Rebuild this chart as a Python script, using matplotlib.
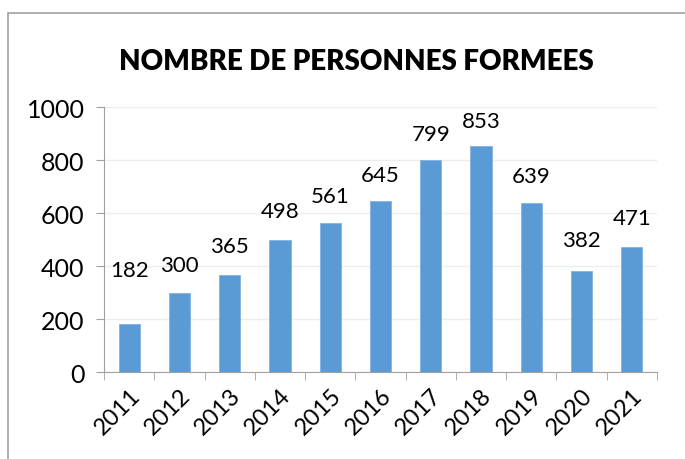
import matplotlib.pyplot as plt
from matplotlib.patches import Rectangle
import numpy as np

years = ['2011', '2012', '2013', '2014', '2015', '2016', '2017', '2018', '2019', '2020', '2021']
personnes = [182, 300, 365, 498, 561, 645, 799, 853, 639, 382, 471]
yticks = [0, 200, 400, 600, 800, 1000]
# decalage vertical des etiquettes (points)
label_offset = [39, 20, 21, 21, 20, 19, 19, 18, 19, 22, 21]

plt.rcParams['font.family'] = ['Lato', 'DejaVu Sans']

fig = plt.figure(figsize=(6.85, 4.6), dpi=100)
ax = fig.add_axes([0.152, 0.189, 0.807, 0.576])

# cadre gris autour du graphique
fig.patches.append(Rectangle((8 / 685, -0.1), 1.2, 1 - 14 / 460 + 0.1,
                             transform=fig.transFigure, fill=False,
                             edgecolor='#A0A0A0', linewidth=1.2))

x = np.arange(len(years))
ax.bar(x, personnes, width=0.42, color='#5B9BD5', edgecolor='#7FB2E0', linewidth=0.6, zorder=3)

for xi, v, off in zip(x, personnes, label_offset):
    ax.annotate(str(v), (xi, v), xytext=(0, off), textcoords='offset points',
                ha='center', va='center', fontsize=16, color='black')

ax.set_xlim(-0.5, len(years) - 0.5)
ax.set_ylim(0, 1000)
ax.set_yticks(yticks)
ax.set_yticklabels([str(t) for t in yticks], fontsize=18)
ax.set_xticks(x)
ax.set_xticklabels(years, rotation=45, ha='right', rotation_mode='anchor', fontsize=17)
ax.set_xticks(np.arange(-0.5, len(years)), minor=True)
ax.tick_params(axis='x', which='major', length=0, pad=9)
ax.tick_params(axis='x', which='minor', length=6, color='#A0A0A0')
ax.tick_params(axis='y', length=6, color='#A0A0A0', pad=8)

ax.grid(axis='y', color='#EDEDED', linewidth=1, zorder=0)
for s in ['top', 'right']:
    ax.spines[s].set_visible(False)
for s in ['left', 'bottom']:
    ax.spines[s].set_color('#A0A0A0')

fig.text(0.52, 0.865, 'NOMBRE DE PERSONNES FORMEES', ha='center', va='center',
         fontsize=20, fontweight='heavy')

fig.savefig('out.png', dpi=100)
